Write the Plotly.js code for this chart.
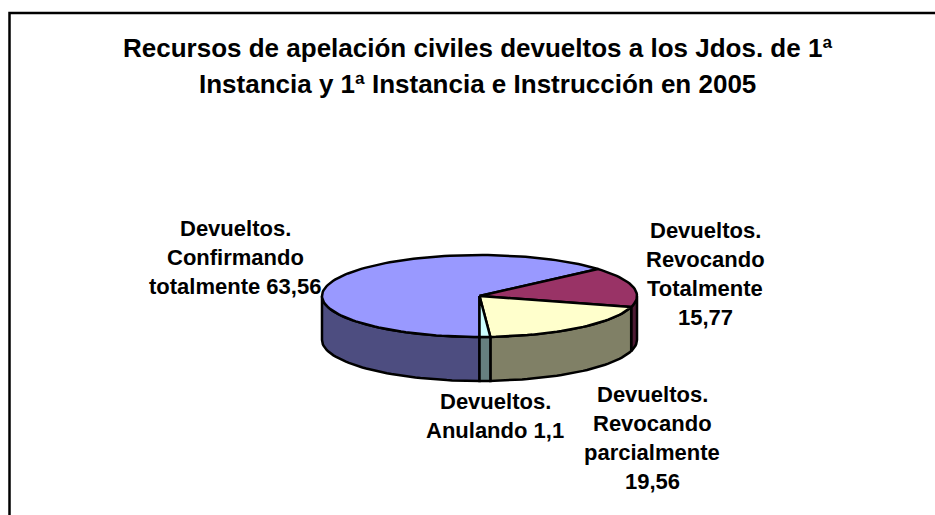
<!DOCTYPE html>
<html><head><meta charset="utf-8">
<script src="https://cdn.plot.ly/plotly-3.0.1.min.js"></script>
<style>html,body{margin:0;padding:0;background:#fff;overflow:hidden}#c{width:935px;height:515px}</style>
</head><body><div id="c"></div>
<script>
const categories = ["Devueltos. Confirmando totalmente","Devueltos. Revocando Totalmente","Devueltos. Revocando parcialmente","Devueltos. Anulando"];
const values = [63.56,15.77,19.56,1.1];
const valueLabels = ["63,56","15,77","19,56","1,1"];
const topColors = ["#9999ff","#993366","#ffffcc","#ccffff"];
const sideColors = ["#4d4d80","#4d1a33","#808066","#668080"];
const titleLines = ["Recursos de apelación civiles devueltos a los Jdos. de 1ª","Instancia y 1ª Instancia e Instrucción en 2005"];

const cx=479.5, cy=296, rx=157.5, ry=41, depth=44, startDeg=180;
const total = values.reduce((a,b)=>a+b,0);
const ex = d => cx + rx*Math.sin(d*Math.PI/180);
const ey = d => cy - ry*Math.cos(d*Math.PI/180);
const lineStyle = {color:"#000",width:2.5};
const traces = [];
function arc(a,b){const xs=[],ys=[];const n=Math.max(2,Math.ceil(Math.abs(b-a)/2));
  for(let i=0;i<=n;i++){const d=a+(b-a)*i/n;xs.push(ex(d));ys.push(ey(d));}return [xs,ys];}
let angle=startDeg;const spans=values.map(v=>{const s=[angle,angle+v/total*360];angle=s[1];return s;});
spans.forEach((s,i)=>{
  [0,360].forEach(off=>{
    const a=Math.max(s[0]-off,90),b=Math.min(s[1]-off,270);
    if(b>a){const [xs,ys]=arc(a,b);
      traces.push({type:"scatter",mode:"lines",x:xs.concat(xs.slice().reverse()).concat([xs[0]]),
        y:ys.concat(ys.slice().reverse().map(y=>y+depth)).concat([ys[0]]),
        fill:"toself",fillcolor:sideColors[i],line:lineStyle,hoverinfo:"skip",showlegend:false});}
  });
});
spans.forEach((s,i)=>{const [xs,ys]=arc(s[0],s[1]);
  traces.push({type:"scatter",mode:"lines",x:[cx].concat(xs,[cx]),y:[cy].concat(ys,[cy]),
    fill:"toself",fillcolor:topColors[i],line:lineStyle,name:categories[i],showlegend:false});});

const labelBlocks = [
 [["Devueltos.","Confirmando","totalmente "+valueLabels[0]],235,228],
 [["Devueltos.","Revocando","Totalmente",valueLabels[1]],705,230],
 [["Devueltos.","Revocando","parcialmente",valueLabels[2]],652,394],
 [["Devueltos.","Anulando "+valueLabels[3]],495,401]];
const fam="Liberation Sans, Arial, sans-serif";
const annotations=[];
labelBlocks.forEach(b=>b[0].forEach((t,i)=>annotations.push({x:b[1],y:b[2]+i*29.3,xref:"x",yref:"y",text:t,showarrow:false,
  font:{family:fam,size:22,color:"#000",weight:700}})));
titleLines.forEach((t,i)=>annotations.push({x:477,y:48+i*36,xref:"x",yref:"y",text:t,showarrow:false,
  font:{family:fam,size:26,color:"#000",weight:700}}));
const layout={width:935,height:515,margin:{l:0,r:0,t:0,b:0},paper_bgcolor:"#fff",plot_bgcolor:"#fff",showlegend:false,
 xaxis:{range:[0,935],visible:false,fixedrange:true},yaxis:{range:[515,0],visible:false,fixedrange:true},
 annotations,
 shapes:[{type:"rect",xref:"x",yref:"y",x0:9.5,x1:960,y0:13,y1:540,line:{color:"#000",width:2.5},fillcolor:"rgba(0,0,0,0)",layer:"below"}]};
Plotly.newPlot("c",traces,layout,{staticPlot:true,displayModeBar:false});
</script></body></html>
